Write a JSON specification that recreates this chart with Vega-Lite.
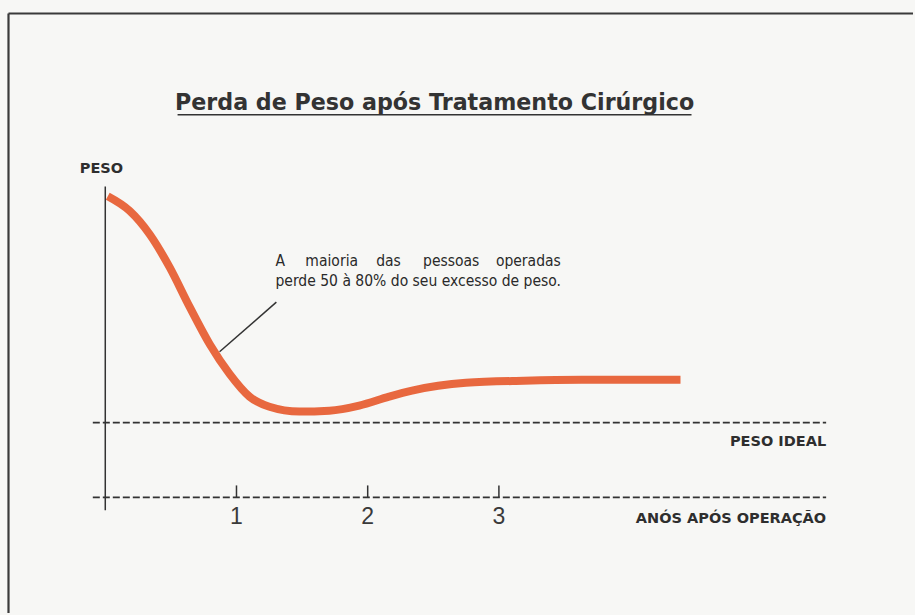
{
  "$schema": "https://vega.github.io/schema/vega-lite/v6.json",
  "width": 915,
  "height": 615,
  "autosize": {"type": "fit", "contains": "padding"},
  "padding": {"left": 7, "top": 12, "right": 0, "bottom": 0},
  "background": "#f7f7f5",
  "config": {"view": {"stroke": null}},
  "datasets": {
    "curve": [
      {"x": 0.019, "y": 100.7},
      {"x": 0.186, "y": 95.8},
      {"x": 0.338, "y": 88.0},
      {"x": 0.49, "y": 77.0},
      {"x": 0.643, "y": 63.7},
      {"x": 0.795, "y": 51.3},
      {"x": 0.947, "y": 41.3},
      {"x": 1.099, "y": 33.7},
      {"x": 1.251, "y": 30.3},
      {"x": 1.479, "y": 28.7},
      {"x": 1.707, "y": 29.0},
      {"x": 1.935, "y": 30.7},
      {"x": 2.163, "y": 33.7},
      {"x": 2.338, "y": 35.7},
      {"x": 2.749, "y": 38.3},
      {"x": 3.19, "y": 39.0},
      {"x": 3.631, "y": 39.3},
      {"x": 4.384, "y": 39.3}
    ],
    "solid": [
      {"part": "frame", "x": -0.7376, "x2": -0.7376, "y": -38.667, "y2": 161.83},
      {"part": "frame", "x": -0.7376, "x2": 6.156, "y": 161.83, "y2": 161.83},
      {"part": "axis", "x": 0, "x2": 0, "y": -4.33, "y2": 104},
      {"part": "tick", "x": 1, "x2": 1, "y": 0, "y2": 4},
      {"part": "tick", "x": 2, "x2": 2, "y": 0, "y2": 4},
      {"part": "tick", "x": 3, "x2": 3, "y": 0, "y2": 4},
      {"part": "leader", "x": 0.871, "x2": 1.304, "y": 48.7, "y2": 65.3},
      {"part": "underline", "x": 0.551, "x2": 4.468, "y": 128.0, "y2": 128.0}
    ],
    "dashed": [
      {"part": "ideal", "x": -0.095, "x2": 5.494, "y": 25, "y2": 25},
      {"part": "xaxis", "x": -0.095, "x2": 5.494, "y": 0, "y2": 0}
    ],
    "labels": [
      {"role": "title", "x": 2.51, "y": 129.6, "text": "Perda de Peso após Tratamento Cirúrgico"},
      {"role": "left", "x": -0.194, "y": 109.67, "text": "PESO"},
      {"role": "right", "x": 5.494, "y": 18.67, "text": "PESO IDEAL"},
      {"role": "right", "x": 5.494, "y": -7.33, "text": "ANÓS APÓS OPERAÇÃO"},
      {"role": "tick", "x": 1, "y": -6.6, "text": "1"},
      {"role": "tick", "x": 2, "y": -6.6, "text": "2"},
      {"role": "tick", "x": 3, "y": -6.6, "text": "3"},
      {"role": "note", "x": 1.297, "y": 79, "text": "A"},
      {"role": "note", "x": 1.525, "y": 79, "text": "maioria"},
      {"role": "note", "x": 2.065, "y": 79, "text": "das"},
      {"role": "note", "x": 2.422, "y": 79, "text": "pessoas"},
      {"role": "note", "x": 2.977, "y": 79, "text": "operadas"},
      {"role": "note", "x": 1.297, "y": 72.33, "text": "perde 50 à 80% do seu excesso de peso."}
    ]
  },
  "encoding": {
    "x": {"field": "x", "type": "quantitative", "scale": {"domain": [-0.749, 6.156], "nice": false, "zero": false}, "axis": null},
    "y": {"field": "y", "type": "quantitative", "scale": {"domain": [-38.667, 162.33], "nice": false, "zero": false}, "axis": null}
  },
  "layer": [
    {
      "data": {"name": "solid"},
      "transform": [{"filter": "datum.part === 'frame'"}],
      "mark": {"type": "rule", "stroke": "#3a3a3a", "strokeWidth": 2.2},
      "encoding": {"x2": {"field": "x2"}, "y2": {"field": "y2"}}
    },
    {
      "data": {"name": "solid"},
      "transform": [{"filter": "datum.part !== 'frame'"}],
      "mark": {"type": "rule", "stroke": "#333333", "strokeWidth": 1.5},
      "encoding": {"x2": {"field": "x2"}, "y2": {"field": "y2"}}
    },
    {
      "data": {"name": "dashed"},
      "mark": {"type": "rule", "stroke": "#333333", "strokeWidth": 1.8, "strokeDash": [7, 3]},
      "encoding": {"x2": {"field": "x2"}, "y2": {"field": "y2"}}
    },
    {
      "data": {"name": "curve"},
      "mark": {"type": "line", "interpolate": "monotone", "stroke": "#e8683f", "strokeWidth": 8, "strokeCap": "butt"},
      "encoding": {"order": {"field": "x", "type": "quantitative"}}
    },
    {
      "data": {"name": "labels"},
      "transform": [{"filter": "datum.role === 'title'"}],
      "mark": {"type": "text", "align": "center", "baseline": "alphabetic", "font": "DejaVu Sans, sans-serif", "fontSize": 22.2, "fontWeight": "bold", "fill": "#333333"},
      "encoding": {"text": {"field": "text"}}
    },
    {
      "data": {"name": "labels"},
      "transform": [{"filter": "datum.role === 'left'"}],
      "mark": {"type": "text", "align": "left", "baseline": "middle", "font": "DejaVu Sans, sans-serif", "fontSize": 14.5, "fontWeight": "bold", "fill": "#2e2e2e"},
      "encoding": {"text": {"field": "text"}}
    },
    {
      "data": {"name": "labels"},
      "transform": [{"filter": "datum.role === 'right'"}],
      "mark": {"type": "text", "align": "right", "baseline": "middle", "font": "DejaVu Sans, sans-serif", "fontSize": 14.5, "fontWeight": "bold", "fill": "#2e2e2e"},
      "encoding": {"text": {"field": "text"}}
    },
    {
      "data": {"name": "labels"},
      "transform": [{"filter": "datum.role === 'tick'"}],
      "mark": {"type": "text", "align": "center", "baseline": "middle", "font": "Liberation Sans, Arial, sans-serif", "fontSize": 23, "fill": "#3a3a3a"},
      "encoding": {"text": {"field": "text"}}
    },
    {
      "data": {"name": "labels"},
      "transform": [{"filter": "datum.role === 'note'"}],
      "mark": {"type": "text", "align": "left", "baseline": "middle", "font": "DejaVu Sans Condensed, Liberation Sans Narrow, DejaVu Sans, sans-serif", "fontSize": 15.5, "fill": "#2a2a2a"},
      "encoding": {"text": {"field": "text"}}
    }
  ]
}
